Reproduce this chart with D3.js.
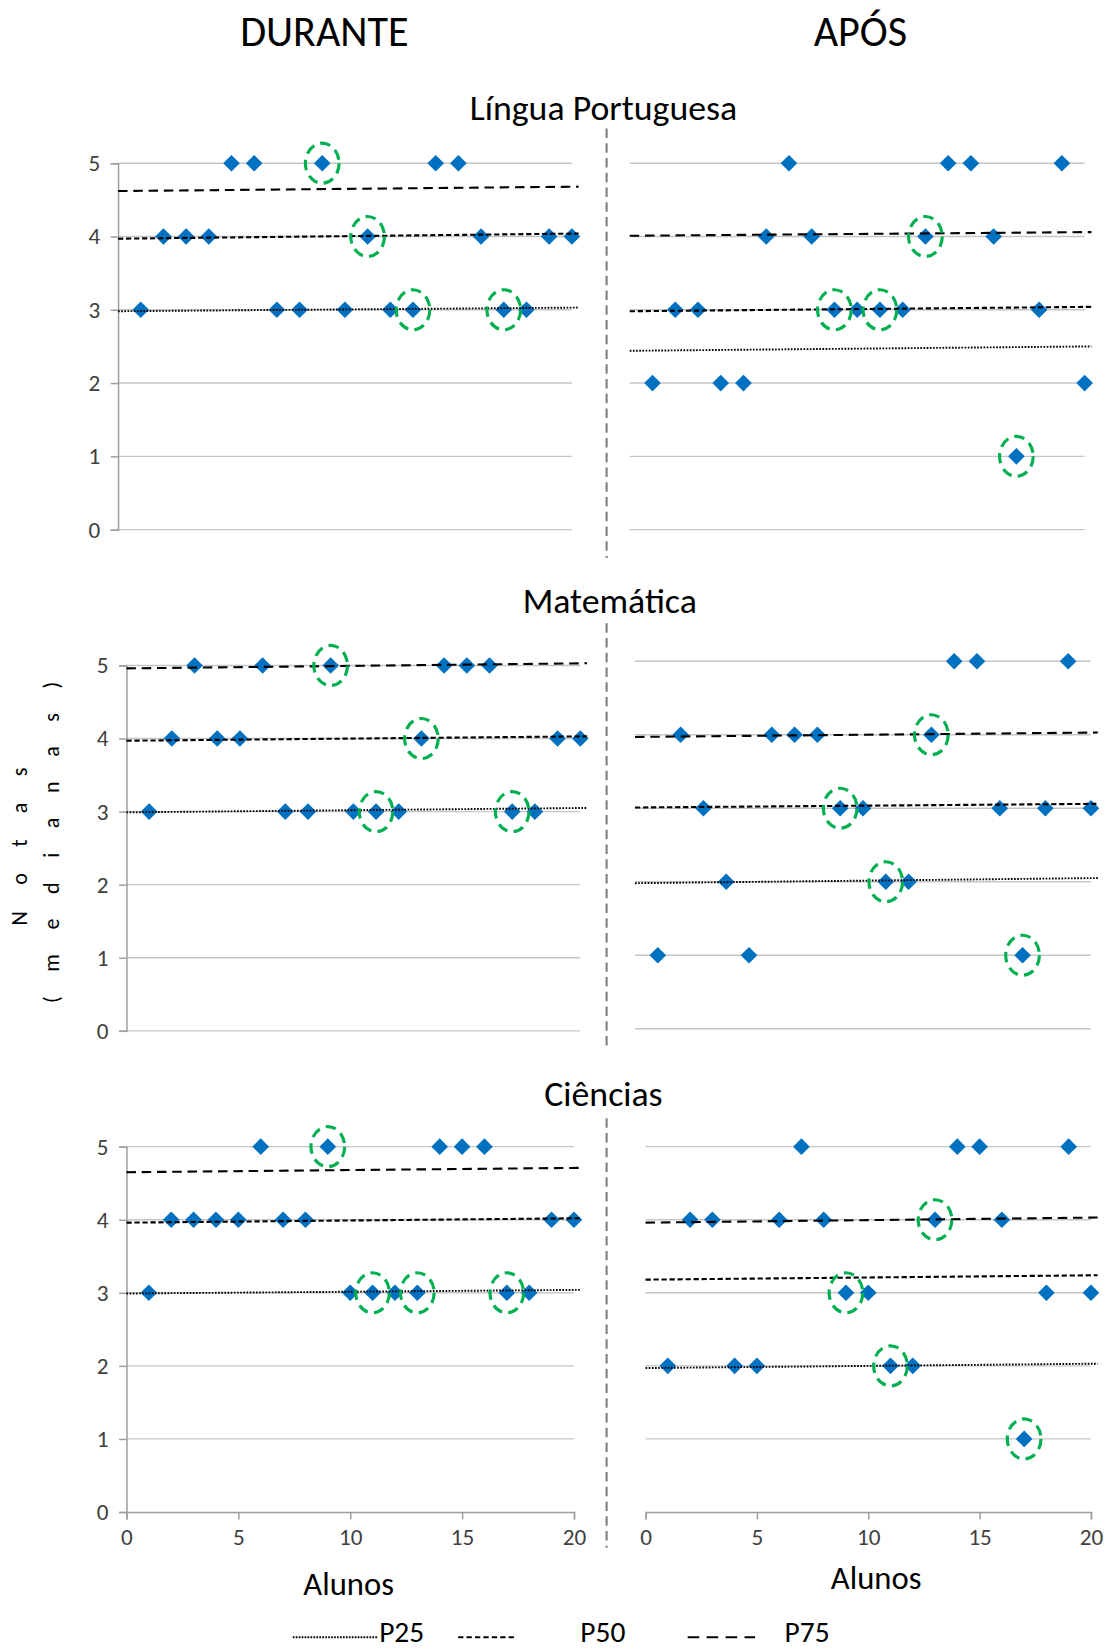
<!DOCTYPE html>
<html>
<head>
<meta charset="utf-8">
<script src="https://cdn.jsdelivr.net/npm/d3@7"></script>
<style>
  html, body { margin: 0; padding: 0; background: #fff; }
  svg { display: block; }
  text { font-family: Carlito, Calibri, Lato, "Open Sans", sans-serif; }
</style>
</head>
<body>
<script>
// ---------- DATA ----------
const alunos = [1, 2, 3, 4, 5, 6, 7, 8, 9, 10, 11, 12, 13, 14, 15, 16, 17, 18, 19, 20];
const destacados = [9, 11, 13, 17];

const lpDurante  = [3, 4, 4, 4, 5, 5, 3, 3, 5, 3, 4, 3, 3, 5, 5, 4, 3, 3, 4, 4];
const lpApos     = [2, 3, 3, 2, 2, 4, 5, 4, 3, 3, 3, 3, 4, 5, 5, 4, 1, 3, 5, 2];
const matDurante = [3, 4, 5, 4, 4, 5, 3, 3, 5, 3, 3, 3, 4, 5, 5, 5, 3, 3, 4, 4];
const matApos    = [1, 4, 3, 2, 1, 4, 4, 4, 3, 3, 2, 2, 4, 5, 5, 3, 1, 3, 5, 3];
const ciDurante  = [3, 4, 4, 4, 4, 5, 4, 4, 5, 3, 3, 3, 3, 5, 5, 5, 3, 3, 4, 4];
const ciApos     = [2, 4, 4, 2, 2, 4, 5, 4, 3, 3, 2, 2, 4, 5, 5, 4, 1, 3, 5, 3];

// trend lines: [value at start, value at end]
const lpDuranteP25 = [2.98, 3.03], lpDuranteP50 = [3.97, 4.04], lpDuranteP75 = [4.62, 4.68];
const lpAposP25 = [2.44, 2.50], lpAposP50 = [2.98, 3.04], lpAposP75 = [4.01, 4.06];
const matDuranteP25 = [2.99, 3.05], matDuranteP50 = [3.97, 4.03], matDuranteP75 = [4.96, 5.03];
const matAposP25 = [1.98, 2.05], matAposP50 = [3.01, 3.06], matAposP75 = [3.97, 4.03];
const ciDuranteP25 = [2.99, 3.04], ciDuranteP50 = [3.96, 4.02], ciDuranteP75 = [4.65, 4.71];
const ciAposP25 = [1.97, 2.03], ciAposP50 = [3.18, 3.24], ciAposP75 = [3.96, 4.03];

const yTicks = [0, 1, 2, 3, 4, 5];
const xTicks = [0, 5, 10, 15, 20];
const trendRange = [0, 20.3];

const colunas = ["DURANTE", "APÓS"];
const disciplinas = ["Língua Portuguesa", "Matemática", "Ciências"];
const legendaNomes = ["P25", "P50", "P75"];

// ---------- LAYOUT ----------
const W = 1054, H = 1568;
const svg = d3.select("body").append("svg")
  .attr("width", 1110).attr("height", 1651)
  .attr("viewBox", `0 0 ${W} ${H}`);

const dash = { P25: "1.6,1.4", P50: "5,2.6", P75: "9,5.5" };

const panels = [
  { data: lpDurante, tr: [lpDuranteP25, lpDuranteP50, lpDuranteP75], x: [112, 543], y: [503, 155], left: true, bottom: false },
  { data: lpApos, tr: [lpAposP25, lpAposP50, lpAposP75], x: [598, 1030], y: [503, 155], left: false, bottom: false },
  { data: matDurante, tr: [matDuranteP25, matDuranteP50, matDuranteP75], x: [120, 551], y: [979, 632], left: true, bottom: false },
  { data: matApos, tr: [matAposP25, matAposP50, matAposP75], x: [603, 1036], y: [977, 628], left: false, bottom: false },
  { data: ciDurante, tr: [ciDuranteP25, ciDuranteP50, ciDuranteP75], x: [120, 545], y: [1436, 1089], left: true, bottom: true },
  { data: ciApos, tr: [ciAposP25, ciAposP50, ciAposP75], x: [613, 1036], y: [1436, 1089], left: false, bottom: true }
];

// column headers
svg.selectAll("text.col").data(colunas).enter().append("text")
  .attr("x", (d, i) => i === 0 ? 308 : 817).attr("y", 44)
  .attr("text-anchor", "middle").attr("font-size", 40).attr("fill", "#000")
  .text(d => d);

// subject titles
const titleY = [114, 582, 1050], titleX = [573, 579, 573];
svg.selectAll("text.sub").data(disciplinas).enter().append("text")
  .attr("x", (d, i) => titleX[i]).attr("y", (d, i) => titleY[i])
  .attr("text-anchor", "middle").attr("font-size", 34).attr("fill", "#000")
  .text(d => d);

// vertical dividers
const divSegs = [[122, 530], [592, 995], [1062, 1470]];
svg.selectAll("line.div").data(divSegs).enter().append("line")
  .attr("x1", 576).attr("x2", 576).attr("y1", d => d[0]).attr("y2", d => d[1])
  .attr("stroke", "#7f7f7f").attr("stroke-width", 2).attr("stroke-dasharray", "9,5");

const diamond = d3.symbol().type(d3.symbolSquare).size(125);

panels.forEach(p => {
  const x = d3.scaleLinear().domain([0, 20]).range(p.x);
  const y = d3.scaleLinear().domain([0, 5]).range(p.y);
  const g = svg.append("g");

  // gridlines
  g.selectAll("line.grid").data(yTicks.filter(t => t > 0)).enter().append("line")
    .attr("x1", x(0)).attr("x2", x(20)).attr("y1", d => y(d)).attr("y2", d => y(d))
    .attr("stroke", "#c6c6c6").attr("stroke-width", 1.3);

  // zero line / bottom axis
  if (p.bottom) {
    const ax = g.append("g").attr("transform", `translate(0,${y(0)})`)
      .call(d3.axisBottom(x).tickValues(xTicks).tickSize(7).tickPadding(9).tickFormat(d3.format("d")));
    ax.select(".domain").attr("stroke", "#9d9d9d").attr("stroke-width", 1.4);
    ax.selectAll(".tick line").attr("stroke", "#9d9d9d").attr("stroke-width", 1.4);
    ax.selectAll(".tick text").attr("font-size", 22).attr("fill", "#404040")
      .attr("font-family", "Carlito, Calibri, Lato, sans-serif");
  } else {
    g.append("line").attr("x1", x(0)).attr("x2", x(20)).attr("y1", y(0)).attr("y2", y(0))
      .attr("stroke", "#c6c6c6").attr("stroke-width", 1.3);
  }

  if (p.left) {
    const ay = g.append("g").attr("transform", `translate(${x(0)},0)`)
      .call(d3.axisLeft(y).tickValues(yTicks).tickSize(7).tickPadding(10).tickFormat(d3.format("d")));
    ay.select(".domain").attr("stroke", "#9d9d9d").attr("stroke-width", 1.4);
    ay.selectAll(".tick line").attr("stroke", "#9d9d9d").attr("stroke-width", 1.4);
    ay.selectAll(".tick text").attr("font-size", 22).attr("fill", "#404040")
      .attr("font-family", "Carlito, Calibri, Lato, sans-serif");
  }

  // points
  const pts = alunos.map((a, i) => ({ a, v: p.data[i] }));
  g.selectAll("path.pt").data(pts).enter().append("path")
    .attr("d", diamond)
    .attr("transform", d => `translate(${x(d.a)},${y(d.v)}) rotate(45)`)
    .attr("fill", "#0070c0");

  // trend lines
  legendaNomes.forEach((nm, k) => {
    const t = p.tr[k];
    g.append("line")
      .attr("x1", x(trendRange[0])).attr("x2", x(trendRange[1]))
      .attr("y1", y(t[0])).attr("y2", y(t[1]))
      .attr("stroke", "#000").attr("stroke-width", nm === "P25" ? 1.8 : 2)
      .attr("stroke-dasharray", dash[nm]);
  });

  // highlight circles
  g.selectAll("ellipse.hl").data(pts.filter(d => destacados.includes(d.a))).enter().append("ellipse")
    .attr("cx", d => x(d.a)).attr("cy", d => y(d.v))
    .attr("rx", 16).attr("ry", 19)
    .attr("fill", "none").attr("stroke", "#00b050").attr("stroke-width", 3)
    .attr("stroke-dasharray", "10,6");
});

// x axis titles
svg.append("text").attr("x", 331).attr("y", 1515).attr("text-anchor", "middle")
  .attr("font-size", 31).attr("fill", "#000").text("Alunos");
svg.append("text").attr("x", 832).attr("y", 1509).attr("text-anchor", "middle")
  .attr("font-size", 31).attr("fill", "#000").text("Alunos");

// y axis title
svg.append("text").attr("transform", "translate(26,804) rotate(-90)")
  .attr("text-anchor", "middle").attr("font-size", 21).attr("fill", "#000")
  .attr("textLength", 150).attr("lengthAdjust", "spacing").text("Notas");
svg.append("text").attr("transform", "translate(56,800) rotate(-90)")
  .attr("text-anchor", "middle").attr("font-size", 21).attr("fill", "#000")
  .attr("textLength", 305).attr("lengthAdjust", "spacing").text("(medianas)");

// legend
const legX = [[278, 358, 360], [435, 490, 551], [653, 717, 745]];
const legDash = { P25: "1.6,1.2", P50: "5,3", P75: "11,7" };
legendaNomes.forEach((nm, i) => {
  const l = legX[i];
  svg.append("line").attr("x1", l[0]).attr("x2", l[1]).attr("y1", 1555).attr("y2", 1555)
    .attr("stroke", "#000").attr("stroke-width", nm === "P25" ? 1.8 : 2).attr("stroke-dasharray", legDash[nm]);
  svg.append("text").attr("x", l[2]).attr("y", 1559).attr("font-size", 28).attr("fill", "#000").text(nm);
});
</script>
</body>
</html>
